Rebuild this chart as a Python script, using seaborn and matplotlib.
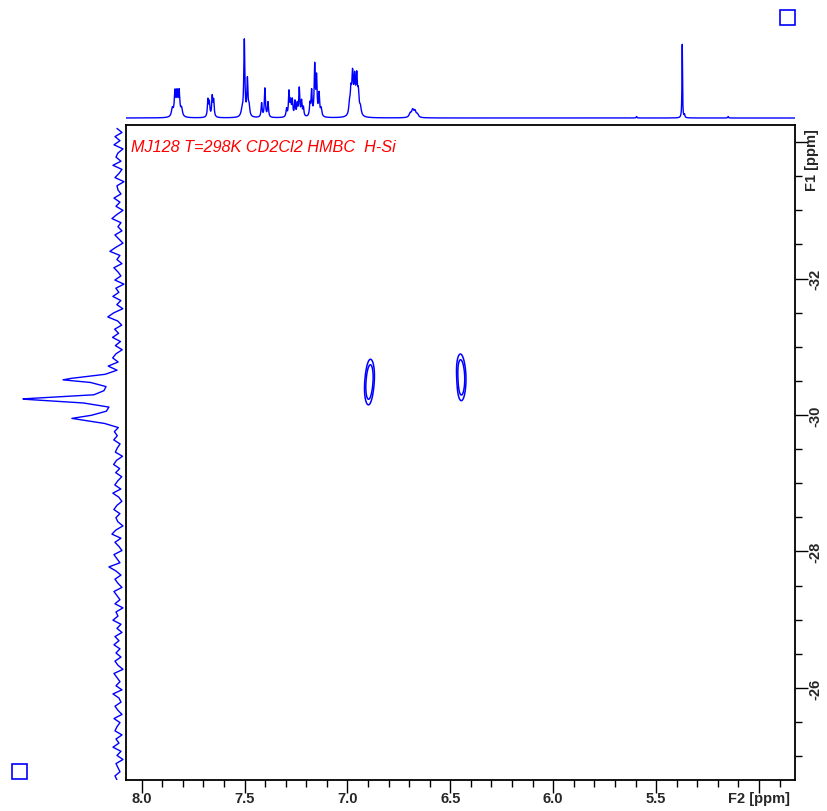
import numpy as np
import matplotlib
matplotlib.use("Agg")
import matplotlib.pyplot as plt
import matplotlib.transforms as mtransforms
from matplotlib.patches import Rectangle
from matplotlib.ticker import MultipleLocator
import seaborn as sns

# 1H projection on top (F2): peak centres [ppm], heights [a.u.], half widths [ppm]
h_ppm = [7.851, 7.838, 7.828, 7.818, 7.806,
         7.678, 7.671, 7.657, 7.650,
         7.512, 7.501, 7.486, 7.478,
         7.417, 7.401, 7.386,
         7.296, 7.284, 7.276, 7.268, 7.255, 7.244, 7.234, 7.223, 7.214,
         7.182, 7.174, 7.159, 7.150, 7.138, 7.128,
         6.990, 6.983, 6.975, 6.965, 6.955, 6.947, 6.937,
         6.695, 6.683, 6.672, 6.660,
         5.595, 5.373, 5.362, 5.150]
h_int = [8, 24, 22, 24, 8,
         17, 14, 20, 16,
         6, 76, 36, 10,
         14, 29, 15,
         8, 25, 14, 16, 15, 12, 28, 15, 9,
         12, 25, 50, 38, 22, 8,
         10, 22, 38, 34, 36, 20, 8,
         4, 7, 6, 3,
         1.5, 74, 3, 1.5]
h_hw = [0.005, 0.004, 0.004, 0.004, 0.005,
        0.003, 0.003, 0.003, 0.003,
        0.006, 0.003, 0.003, 0.004,
        0.003, 0.003, 0.003,
        0.003, 0.003, 0.003, 0.003, 0.003, 0.003, 0.003, 0.003, 0.003,
        0.003, 0.003, 0.003, 0.003, 0.003, 0.004,
        0.004, 0.004, 0.004, 0.004, 0.004, 0.004, 0.005,
        0.006, 0.006, 0.006, 0.006,
        0.002, 0.0015, 0.002, 0.002]

# 29Si projection on the left (F1)
si_ppm = [-30.515, -30.23, -29.95]
si_int = [54, 92, 45]
si_hw = 0.04
si_noise = [2, -3, 4, -1, 5, -4, 1, 3, -2, 6, -3, 0, 4, -5, 2, 1,
            -2, 5, -1, 3, -4, 2, 7, -2, 1, -3, 4, 0, -4, 3, 9, -1,
            2, -3, 5, 1, -2, 4, -5, 3, 0, 6, -2, 2, -4, 5, 11, 1,
            -3, 4, 0, 6, -2, 3, -4, 2, 5, -1, 8, -3, 2, 4, -2, 1,
            3, -2, 4, 1, -3, 2, 5, -1, 3, -4, 2, 0, 4, -2, 1, 3,
            -4, 2, 5, -1, 3, -3, 1, 4, -2, 6, 0, -3, 2, 5, -1, 3,
            1, -4, 3, 7, -2, 4, 0, -3, 5, 2, -1, 10, 3, -2, 4, 1,
            -3, 5, 2, -1, 4, -4, 3, 1, 6, -2, 2, -3, 4, 0, 5, -1,
            3, -2, 4, 1, -4, 5, 2, -1, 3, -3, 6, 0, -2, 4, 1, -3,
            5, -1, 2, 4, -3, 3, 0, 6, -2, 2, -4, 3, 1, -1, 4, 2]

# HMBC cross peaks: F2 [ppm], F1 [ppm], relative intensity
cross_f2 = [6.887, 6.893, 6.899, 6.452, 6.444, 6.447]
cross_f1 = [-30.62, -30.48, -30.34, -30.70, -30.55, -30.40]
cross_int = [0.8, 1.0, 0.75, 0.8, 1.0, 0.75]

title = "MJ128 T=298K CD2Cl2 HMBC  H-Si"
x_ticks = [8.0, 7.5, 7.0, 6.5, 6.0, 5.5, 5.0]
x_labels = ["8.0", "7.5", "7.0", "6.5", "6.0", "5.5", "F2 [ppm]"]
y_ticks = [-34, -32, -30, -28, -26]
y_labels = ["", "-32", "-30", "-28", "-26"]

F2_LIM = (8.076, 4.825)
F1_LIM = (-24.65, -34.25)
BLUE = "#0000ff"

sns.set_style("white")
plt.rcParams["font.family"] = ["Liberation Sans", "DejaVu Sans"]

W, H = 827, 812
fig = plt.figure(figsize=(W / 100, H / 100), dpi=100)


def px_axes(x0, y0, x1, y1):
    return fig.add_axes([x0 / W, 1 - y1 / H, (x1 - x0) / W, (y1 - y0) / H])


ax = px_axes(126, 126, 795, 781)
ax_top = px_axes(126, 28, 795, 122)
ax_left = px_axes(20, 126, 126, 781)

# top 1D trace
f2 = np.linspace(F2_LIM[0], F2_LIM[1], 6000)
spec = np.zeros_like(f2)
for c, h, w in zip(h_ppm, h_int, h_hw):
    spec += h / (1 + ((f2 - c) / w) ** 2)
sns.lineplot(x=f2, y=spec, ax=ax_top, color=BLUE, linewidth=1.0,
             estimator=None, sort=False)
ax_top.set_xlim(*F2_LIM)
ax_top.set_ylim(-3, 91)
ax_top.axis("off")

# left 1D trace
f1 = np.linspace(-34.2, -24.65, len(si_noise))
f1_all = np.concatenate([f1, si_ppm])
noise_all = np.concatenate([si_noise, np.zeros(len(si_ppm))])
order = np.argsort(f1_all)
f1_all, noise_all = f1_all[order], noise_all[order]
proj = noise_all.astype(float)
for c, h in zip(si_ppm, si_int):
    proj += h / (1 + ((f1_all - c) / si_hw) ** 2)
sns.lineplot(x=proj, y=f1_all, ax=ax_left, color=BLUE, linewidth=1.0,
             estimator=None, sort=False, orient="y")
ax_left.set_xlim(99, -7)
ax_left.set_ylim(*F1_LIM)
ax_left.axis("off")

# 2D contours
g2 = np.linspace(7.1, 6.2, 600)
g1 = np.linspace(-31.6, -29.0, 400)
G2, G1 = np.meshgrid(g2, g1)
Z = np.zeros_like(G2)
for c2, c1, a in zip(cross_f2, cross_f1, cross_int):
    Z += a * np.exp(-((G2 - c2) ** 2) / (2 * 0.012 ** 2) - ((G1 - c1) ** 2) / (2 * 0.14 ** 2))
ax.contour(G2, G1, Z, levels=[0.35, 0.75], colors=BLUE, linewidths=1.1)

ax.set_xlim(*F2_LIM)
ax.set_ylim(*F1_LIM)
ax.set_xticks(x_ticks)
ax.set_xticklabels(x_labels)
ax.xaxis.set_minor_locator(MultipleLocator(0.1))
ax.yaxis.tick_right()
ax.set_yticks(y_ticks)
ax.set_yticklabels(y_labels)
ax.yaxis.set_minor_locator(MultipleLocator(0.5))
ax.tick_params(axis="both", which="major", direction="out", length=9, width=1.0,
               color="black", labelsize=10.5, pad=4)
ax.tick_params(axis="both", which="minor", direction="out", length=5, width=1.0,
               color="black")
ax.tick_params(axis="y", which="major", labelrotation=90, pad=0.5)
ax.tick_params(axis="x", bottom=True, which="both")
ax.tick_params(axis="y", right=True, left=False, which="both")
for lab in ax.get_xticklabels() + ax.get_yticklabels():
    lab.set_fontweight("bold")
    lab.set_va("center")
for side in ax.spines.values():
    side.set_color("black")
    side.set_linewidth(1.3)

trans = mtransforms.blended_transform_factory(ax.transAxes, ax.transData)
ax.text(1.0254, -33.75, "F1 [ppm]", transform=trans, rotation=90,
        ha="center", va="center", fontsize=10.5, fontweight="bold")

ax.text(0.008, 0.978, title, transform=ax.transAxes, ha="left", va="top",
        color="#ff0000", fontsize=11.7, fontstyle="italic")

for (x0, y0) in [(780, 11), (12, 765)]:
    fig.add_artist(Rectangle((x0 / W, 1 - (y0 + 15) / H), 15 / W, 15 / H,
                             transform=fig.transFigure, fill=False,
                             edgecolor=BLUE, linewidth=1.2))

fig.savefig("out.png", dpi=100)
